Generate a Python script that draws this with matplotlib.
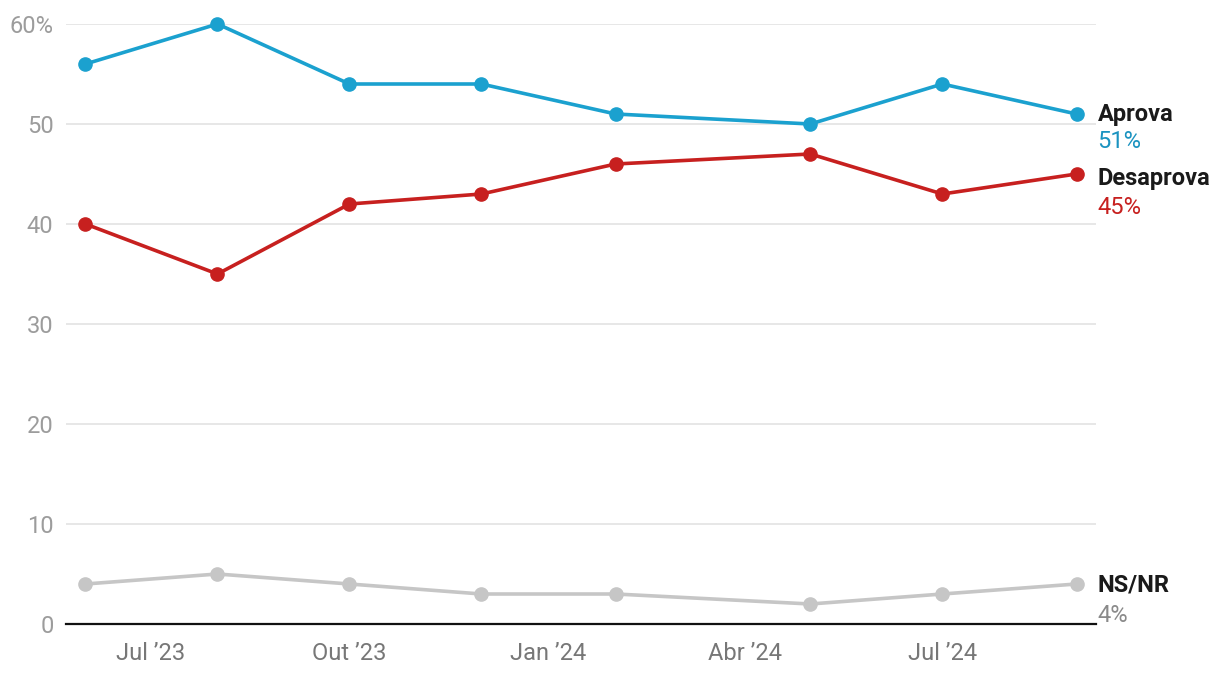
import matplotlib
matplotlib.use("Agg")
import matplotlib.pyplot as plt
import datetime as dt

plt.rcParams['font.family'] = ['Roboto', 'DejaVu Sans']

dates = ["2023-06-01", "2023-08-01", "2023-10-01", "2023-12-01",
         "2024-02-01", "2024-05-01", "2024-07-01", "2024-09-01"]
aprova = [56, 60, 54, 54, 51, 50, 54, 51]
desaprova = [40, 35, 42, 43, 46, 47, 43, 45]
nsnr = [4, 5, 4, 3, 3, 2, 3, 4]
series_names = ["Aprova", "Desaprova", "NS/NR"]
series_colors = ["#1ba1cf", "#c7201f", "#c6c6c6"]
value_colors = ["#1b93c0", "#c7201f", "#8a8a8a"]
tick_dates = ["2023-07-01", "2023-10-01", "2024-01-01", "2024-04-01", "2024-07-01"]
tick_labels = ["Jul \u201923", "Out \u201923", "Jan \u201924", "Abr \u201924", "Jul \u201924"]
yticks = [0, 10, 20, 30, 40, 50, 60]
ytick_labels = ["0", "10", "20", "30", "40", "50", "60%"]

x = [dt.datetime.strptime(d, "%Y-%m-%d") for d in dates]
xt = [dt.datetime.strptime(d, "%Y-%m-%d") for d in tick_dates]

fig = plt.figure(figsize=(12.2, 6.74), dpi=100)
ax = fig.add_axes([66/1220, 1-624/674, (1096-66)/1220, 600/674])

for vals, col in zip([aprova, desaprova, nsnr], series_colors):
    ax.plot(x, vals, color=col, lw=2.6, marker='o', ms=9.5, clip_on=False, zorder=3,
            solid_capstyle='round')

ax.set_ylim(0, 60)
ax.set_xlim(dt.datetime(2023, 5, 23), dt.datetime(2024, 9, 10))
ax.set_yticks(yticks)
ax.set_yticklabels(ytick_labels)
ax.set_xticks(xt)
ax.set_xticklabels(tick_labels)
ax.grid(axis='y', color='#e3e3e3', lw=1.2)
ax.set_axisbelow(True)
for s in ['top', 'right', 'left']:
    ax.spines[s].set_visible(False)
ax.spines['bottom'].set_color('#111111')
ax.spines['bottom'].set_linewidth(1.6)
ax.spines['bottom'].set_zorder(4)
ax.tick_params(axis='y', length=0, pad=9, labelsize=17, labelcolor='#9c9c9c')
ax.tick_params(axis='x', length=0, pad=13, labelsize=17, labelcolor='#777777')

name_off = [0, -4, -1]
val_off = [-28, -33, -31]
for name, vals, vcol, no, vo in zip(series_names, [aprova, desaprova, nsnr], value_colors,
                                    name_off, val_off):
    ax.annotate(name, xy=(x[-1], vals[-1]), xytext=(21, no), textcoords='offset pixels',
                ha='left', va='center', fontsize=17, fontweight='bold', color='#1a1a1a',
                annotation_clip=False)
    ax.annotate(f"{vals[-1]}%", xy=(x[-1], vals[-1]), xytext=(21, vo), textcoords='offset pixels',
                ha='left', va='center', fontsize=17, color=vcol, annotation_clip=False)

fig.savefig("out.png", dpi=100, facecolor='white')
